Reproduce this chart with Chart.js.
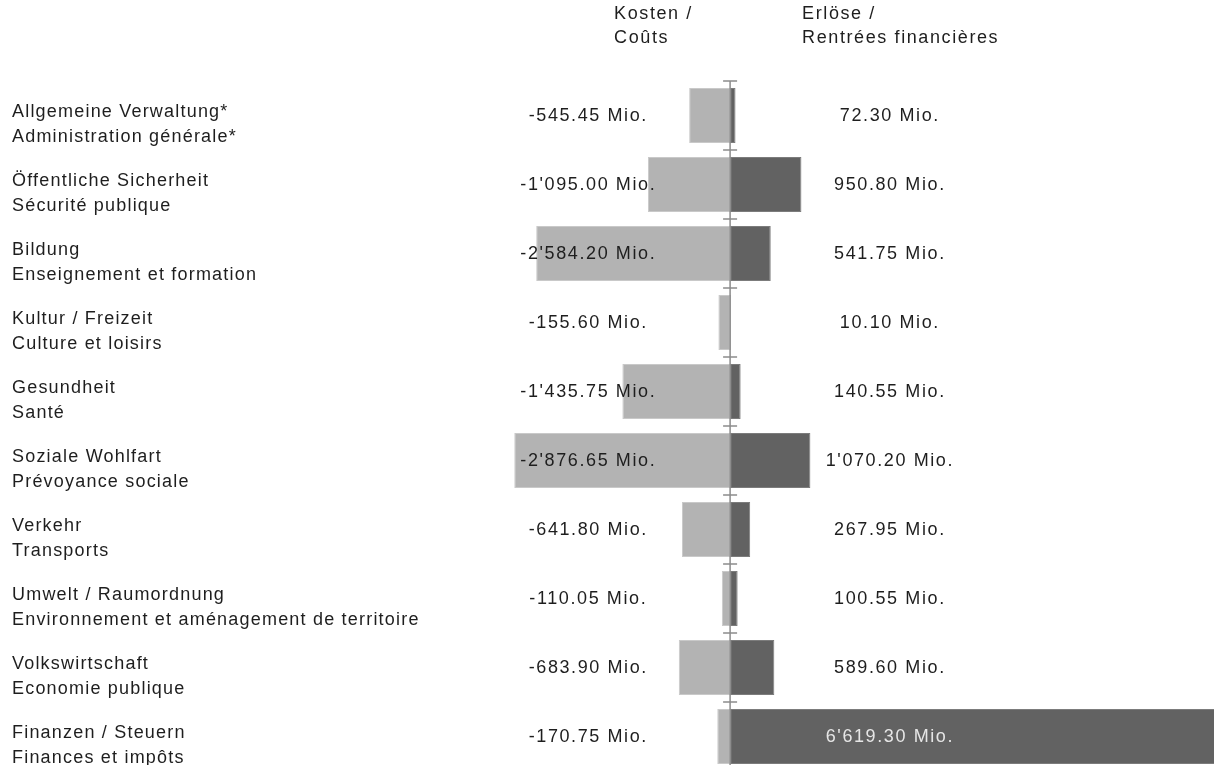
<!DOCTYPE html>
<html>
<head>
<meta charset="utf-8">
<script src="https://cdn.jsdelivr.net/npm/chart.js@4"></script>
<style>
  html, body { margin: 0; padding: 0; background: #fff; overflow: hidden; }
</style>
</head>
<body>
<canvas id="grafico" width="1214" height="771"></canvas>
<script>
const kategorien = [
    ['Allgemeine Verwaltung*', 'Administration générale*'],
    ['Öffentliche Sicherheit', 'Sécurité publique'],
    ['Bildung', 'Enseignement et formation'],
    ['Kultur / Freizeit', 'Culture et loisirs'],
    ['Gesundheit', 'Santé'],
    ['Soziale Wohlfart', 'Prévoyance sociale'],
    ['Verkehr', 'Transports'],
    ['Umwelt / Raumordnung', 'Environnement et aménagement de territoire'],
    ['Volkswirtschaft', 'Economie publique'],
    ['Finanzen / Steuern', 'Finances et impôts']
]
const kosten = [-545.45, -1095.00, -2584.20, -155.60, -1435.75, -2876.65, -641.80, -110.05, -683.90, -170.75]
const erloese = [72.30, 950.80, 541.75, 10.10, 140.55, 1070.20, 267.95, 100.55, 589.60, 6619.30]
const kopfKosten = ['Kosten /', 'Coûts']
const kopfErloese = ['Erlöse /', 'Rentrées financières']

const schrift = '18px "Liberation Sans", Arial, sans-serif'

function formatMio(wert) {
    let teile = Math.abs(wert).toFixed(2).split('.')
    let ganz = teile[0].replace(/\B(?=(\d{3})+(?!\d))/g, "'")
    return (wert < 0 ? '-' : '') + ganz + '.' + teile[1] + ' Mio.'
}

// axis line with ticks, category labels, value labels and the two headers
const beschriftung = {
    id: 'beschriftung',
    afterDatasetsDraw(chart) {
        const { ctx, chartArea, scales: { x, y } } = chart
        const x0 = x.getPixelForValue(0)
        ctx.save()

        ctx.strokeStyle = '#8c8c8c'
        ctx.lineWidth = 1.5
        ctx.beginPath()
        ctx.moveTo(x0, chartArea.top)
        ctx.lineTo(x0, chartArea.bottom)
        for (let i = 0; i <= kategorien.length; i++) {
            let yy = y.getPixelForValue(i - 0.5)
            ctx.moveTo(x0 - 7, yy)
            ctx.lineTo(x0 + 7, yy)
        }
        ctx.stroke()

        ctx.font = schrift
        ctx.textBaseline = 'middle'
        ctx.fillStyle = '#1e1e1e'

        ctx.letterSpacing = '1.6px'
        ctx.textAlign = 'left'
        ctx.fillText(kopfKosten[0], x0 - 116, 14)
        ctx.fillText(kopfKosten[1], x0 - 116, 38)
        ctx.fillText(kopfErloese[0], x0 + 72, 14)
        ctx.fillText(kopfErloese[1], x0 + 72, 38)

        kategorien.forEach((zeilen, i) => {
            let yc = y.getPixelForValue(i)
            ctx.letterSpacing = '1.2px'
            ctx.textAlign = 'left'
            ctx.fillStyle = '#1e1e1e'
            ctx.fillText(zeilen[0], 12, yc - 3)
            ctx.fillText(zeilen[1], 12, yc + 22)

            ctx.letterSpacing = '1.6px'
            ctx.textAlign = 'center'
            ctx.fillText(formatMio(kosten[i]), x.getPixelForValue(-1890), yc + 1)

            let xr = x.getPixelForValue(2130)
            ctx.fillStyle = x.getPixelForValue(erloese[i]) > xr ? '#e6e6e6' : '#1e1e1e'
            ctx.fillText(formatMio(erloese[i]), xr, yc + 1)
        })
        ctx.restore()
    }
}

let ctx = document.getElementById('grafico')
new Chart(ctx, {
    type: 'bar',
    data: {
        labels: kategorien,
        datasets: [{
            label: 'Kosten / Coûts',
            data: kosten,
            backgroundColor: '#b3b3b3',
            borderColor: '#c9c9c9',
            borderWidth: 1,
            borderSkipped: false
        }, {
            label: 'Erlöse / Rentrées financières',
            data: erloese,
            backgroundColor: '#626262',
            borderColor: '#7c7c7c',
            borderWidth: 1,
            borderSkipped: false
        }]
    },
    options: {
        indexAxis: 'y',
        responsive: false,
        animation: false,
        devicePixelRatio: 1,
        categoryPercentage: 0.8,
        barPercentage: 1,
        layout: {
            padding: { left: 430, top: 81, right: 0, bottom: 0 }
        },
        plugins: {
            legend: { display: false },
            tooltip: { enabled: false }
        },
        scales: {
            x: {
                display: false,
                stacked: true,
                min: -4000,
                max: 6450
            },
            y: {
                display: false,
                stacked: true
            }
        }
    },
    plugins: [beschriftung]
})
</script>
</body>
</html>
